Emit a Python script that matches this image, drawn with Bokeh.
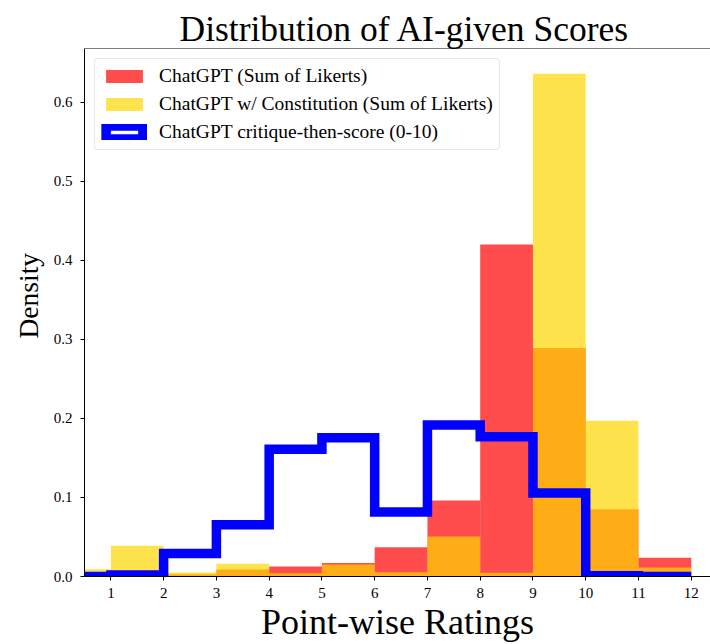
from bokeh.plotting import figure
from bokeh.models import (ColumnDataSource, Range1d, FixedTicker, Span, Legend,
                          LegendItem, NumeralTickFormatter, Title)
from bokeh.embed import file_html
from bokeh.resources import INLINE

# ---- data (density per integer bin, edges 0..12) ----
BIN_EDGES = [0, 1, 2, 3, 4, 5, 6, 7, 8, 9, 10, 11, 12]
SUM_LIKERT = [0.005, 0.001, 0.003, 0.009, 0.0126, 0.017, 0.037, 0.096, 0.420, 0.289, 0.085, 0.0236]
CONSTITUTION = [0.0093, 0.0388, 0.005, 0.016, 0.0042, 0.0152, 0.0055, 0.0505, 0.0047, 0.636, 0.197, 0.0114]
CRITIQUE = [0.0, 0.002, 0.029, 0.0653, 0.1608, 0.1755, 0.0817, 0.1915, 0.1768, 0.1057, 0.0008, 0.0]
X_TICKS = [1, 2, 3, 4, 5, 6, 7, 8, 9, 10, 11, 12]
Y_TICKS = [0.0, 0.1, 0.2, 0.3, 0.4, 0.5, 0.6]

TITLE = "Distribution of AI-given Scores"
X_LABEL = "Point-wise Ratings"
Y_LABEL = "Density"
LABELS = ["ChatGPT (Sum of Likerts)",
          "ChatGPT w/ Constitution (Sum of Likerts)",
          "ChatGPT critique-then-score (0-10)"]

FONT = "Liberation Serif"
Y_MAX = max(CONSTITUTION) * 1.05
NAN = float("nan")

p = figure(width=710, height=644, output_backend="svg", toolbar_location=None,
           x_range=Range1d(0.5, 12.365), y_range=Range1d(0, Y_MAX),
           min_border_left=84, min_border_right=0, min_border_top=48,
           min_border_bottom=67)
p.outline_line_color = None
p.xgrid.visible = False
p.ygrid.visible = False
p.background_fill_color = "white"

lefts = BIN_EDGES[:-1]
rights = BIN_EDGES[1:]
src_red = ColumnDataSource(dict(left=lefts, right=rights, top=SUM_LIKERT, bottom=[0] * len(lefts)))
src_gold = ColumnDataSource(dict(left=lefts, right=rights, top=CONSTITUTION, bottom=[0] * len(lefts)))

r_red = p.quad(left="left", right="right", top="top", bottom="bottom", source=src_red,
               fill_color="red", fill_alpha=0.7, line_color=None)
r_gold = p.quad(left="left", right="right", top="top", bottom="bottom", source=src_gold,
                fill_color="gold", fill_alpha=0.7, line_color=None)

# step outline of the critique histogram
xs, ys = [BIN_EDGES[0]], [0]
for i, v in enumerate(CRITIQUE):
    xs += [BIN_EDGES[i], BIN_EDGES[i + 1]]
    ys += [v, v]
xs.append(BIN_EDGES[-1])
ys.append(0)
p.line(xs, ys, line_color="blue", line_width=9.5, line_join="miter")

# legend proxy for the step outline (hollow rectangle, not drawn in the plot)
r_blue_proxy = p.quad(left=[NAN], right=[NAN], top=[NAN], bottom=[NAN], fill_color="white",
                      fill_alpha=1.0, line_color="blue", line_width=9.5, line_join="miter")

legend = Legend(items=[LegendItem(label=LABELS[0], renderers=[r_red]),
                       LegendItem(label=LABELS[1], renderers=[r_gold]),
                       LegendItem(label=LABELS[2], renderers=[r_blue_proxy])],
                location="top_left", margin=10, padding=6, spacing=6,
                glyph_width=46, glyph_height=16, label_height=22, label_standoff=12,
                label_text_font=FONT, label_text_font_size="19.5px",
                label_text_color="black",
                border_line_color="#d0d0d0", border_line_width=1,
                background_fill_color="white", background_fill_alpha=0.8)
if "border_radius" in legend.properties():
    legend.border_radius = 4
p.add_layout(legend, "center")

# top spine
p.add_layout(Span(location=Y_MAX, dimension="width", line_color="black", line_width=1))

# title
p.title.text = TITLE
p.title.text_font = FONT
p.title.text_font_size = "35.5px"
p.title.text_font_style = "normal"
p.title.text_color = "black"
p.title.align = "left"
p.title.standoff = 0
p.title.offset = 95

# y label as a left-side title (allows shifting along the axis)
ytitle = Title(text=Y_LABEL, align="left", offset=238, text_font=FONT,
               text_font_size="27.5px", text_font_style="normal", text_color="black",
               standoff=13)
p.add_layout(ytitle, "left")

for ax in (p.xaxis[0], p.yaxis[0]):
    ax.axis_line_color = "black"
    ax.axis_line_width = 1
    ax.major_tick_line_color = "black"
    ax.major_tick_out = 4
    ax.major_tick_in = 0
    ax.minor_tick_line_color = None
    ax.major_label_text_font = FONT
    ax.major_label_text_font_size = "15px"
    ax.major_label_text_color = "black"
    ax.axis_label_text_font = FONT
    ax.axis_label_text_font_style = "normal"
    ax.axis_label_text_color = "black"

p.xaxis[0].ticker = FixedTicker(ticks=X_TICKS)
p.yaxis[0].ticker = FixedTicker(ticks=Y_TICKS)
p.yaxis[0].formatter = NumeralTickFormatter(format="0.0")
p.xaxis[0].axis_label = X_LABEL
p.xaxis[0].axis_label_text_font_size = "36px"
p.xaxis[0].major_label_standoff = 7
p.yaxis[0].major_label_standoff = 8
p.xaxis[0].axis_label_standoff = 1

open("out.html", "w").write(file_html(p, INLINE))
